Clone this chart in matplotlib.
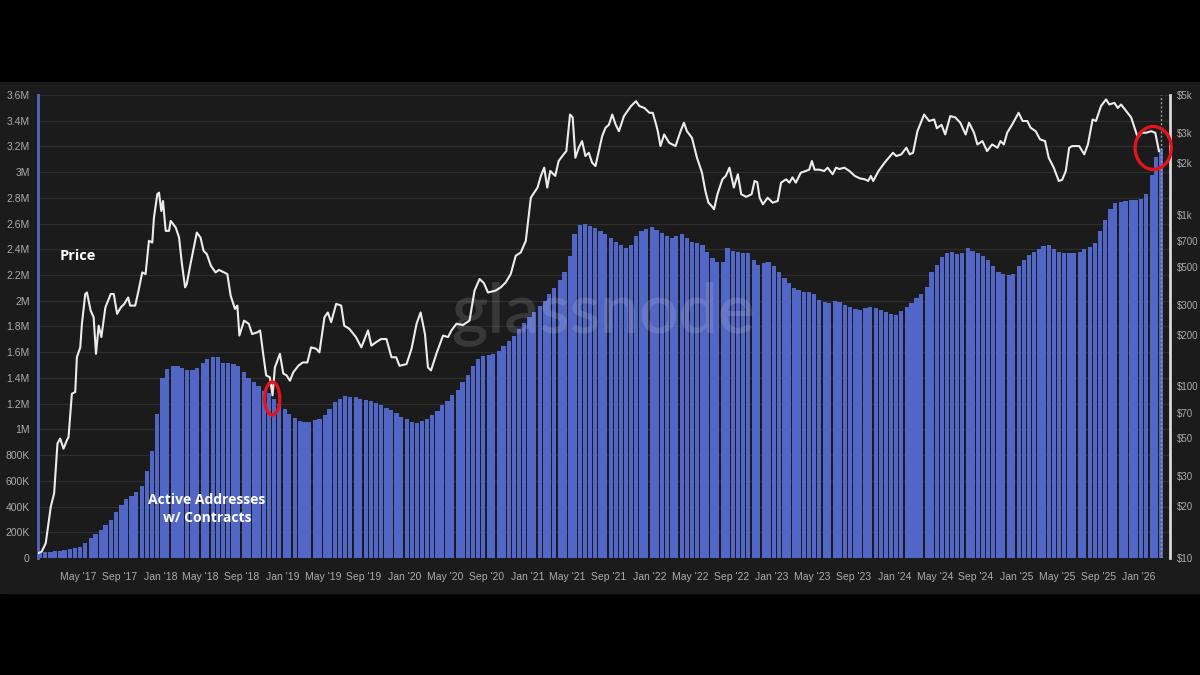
import matplotlib
matplotlib.use("Agg")
import matplotlib.pyplot as plt
import matplotlib.dates as mdates
import matplotlib.ticker as mticker
from matplotlib.patches import Ellipse, Rectangle
import pandas as pd

# active addresses w/ contracts, semi-monthly (thousands)
bars_2017 = [48, 49, 50, 52, 58, 63, 68, 75, 88, 120, 155, 185, 218, 255, 295, 355, 415, 455, 480, 510, 560, 680, 830, 1120]
bars_2018 = [1400, 1470, 1490, 1490, 1480, 1460, 1460, 1480, 1520, 1545, 1560, 1565, 1515, 1520, 1510, 1490, 1450, 1400, 1370, 1340, 1300, 1280, 1240, 1200]
bars_2019 = [1160, 1120, 1090, 1065, 1060, 1060, 1070, 1080, 1110, 1160, 1210, 1240, 1260, 1255, 1250, 1240, 1230, 1220, 1205, 1190, 1170, 1150, 1130, 1100]
bars_2020 = [1080, 1060, 1047, 1065, 1080, 1110, 1140, 1190, 1220, 1270, 1310, 1370, 1420, 1490, 1550, 1570, 1580, 1585, 1610, 1650, 1690, 1730, 1780, 1830]
bars_2021 = [1870, 1910, 1960, 2000, 2050, 2100, 2160, 2220, 2350, 2520, 2590, 2595, 2580, 2565, 2545, 2520, 2490, 2460, 2430, 2410, 2430, 2500, 2540, 2556]
bars_2022 = [2570, 2550, 2525, 2500, 2486, 2500, 2520, 2490, 2460, 2450, 2430, 2380, 2330, 2300, 2300, 2410, 2390, 2380, 2375, 2370, 2320, 2280, 2290, 2300]
bars_2023 = [2270, 2220, 2180, 2140, 2100, 2080, 2066, 2070, 2050, 2006, 1990, 1980, 1995, 1990, 1970, 1955, 1935, 1928, 1945, 1955, 1940, 1925, 1910, 1895]
bars_2024 = [1890, 1920, 1955, 1985, 2020, 2055, 2110, 2225, 2280, 2340, 2370, 2380, 2360, 2375, 2408, 2390, 2370, 2345, 2317, 2270, 2220, 2205, 2200, 2210]
bars_2025 = [2270, 2320, 2355, 2380, 2400, 2425, 2430, 2400, 2380, 2369, 2369, 2370, 2380, 2400, 2420, 2450, 2540, 2630, 2710, 2758, 2770, 2776, 2780, 2784]
bars_2026 = [2790, 2830, 2980, 3120, 3180]

addr_k = bars_2017 + bars_2018 + bars_2019 + bars_2020 + bars_2021 + bars_2022 + bars_2023 + bars_2024 + bars_2025 + bars_2026
addr = [v * 1000 for v in addr_k]
addr_dates = pd.date_range("2017-01-01", periods=len(addr), freq="SMS")

# price (usd)
price_dates = [
    "2017-01-03", "2017-01-12", "2017-01-24", "2017-02-08", "2017-02-18", "2017-02-28", "2017-03-08", "2017-03-18",
    "2017-03-28", "2017-04-02", "2017-04-12", "2017-04-22", "2017-04-27", "2017-05-07", "2017-05-12", "2017-05-22",
    "2017-05-27", "2017-06-07", "2017-06-16", "2017-06-23", "2017-07-01", "2017-07-09", "2017-07-21", "2017-08-06",
    "2017-08-15", "2017-08-25", "2017-09-05", "2017-09-15", "2017-09-27", "2017-10-03", "2017-10-18", "2017-10-28",
    "2017-11-08", "2017-11-18", "2017-11-28", "2017-12-08", "2017-12-13", "2017-12-23", "2017-12-28", "2018-01-04",
    "2018-01-09", "2018-01-17", "2018-01-27", "2018-02-01", "2018-02-16", "2018-02-26", "2018-03-06", "2018-03-16",
    "2018-03-21", "2018-04-01", "2018-04-10", "2018-04-20", "2018-05-01", "2018-05-10", "2018-05-20", "2018-06-01",
    "2018-06-15", "2018-06-25", "2018-07-10", "2018-07-20", "2018-07-30", "2018-08-12", "2018-08-19", "2018-08-25",
    "2018-09-08", "2018-09-22", "2018-10-02", "2018-10-18", "2018-10-26", "2018-11-04", "2018-11-13", "2018-11-24",
    "2018-12-02", "2018-12-09", "2018-12-24", "2019-01-03", "2019-01-13", "2019-01-23", "2019-02-02", "2019-02-17",
    "2019-03-02", "2019-03-16", "2019-03-27", "2019-04-11", "2019-04-21", "2019-05-06", "2019-05-16", "2019-05-26",
    "2019-06-10", "2019-06-25", "2019-07-04", "2019-07-19", "2019-08-08", "2019-08-24", "2019-09-13", "2019-09-23",
    "2019-10-07", "2019-10-22", "2019-11-07", "2019-11-22", "2019-12-06", "2019-12-16", "2020-01-06", "2020-01-21",
    "2020-02-05", "2020-02-17", "2020-03-01", "2020-03-10", "2020-03-19", "2020-04-04", "2020-04-24", "2020-05-09",
    "2020-05-19", "2020-06-03", "2020-06-22", "2020-07-12", "2020-07-27", "2020-08-11", "2020-08-24", "2020-09-05",
    "2020-09-28", "2020-10-13", "2020-10-28", "2020-11-12", "2020-11-27", "2020-12-12", "2020-12-27", "2021-01-11",
    "2021-01-21", "2021-01-31", "2021-02-10", "2021-02-20", "2021-03-01", "2021-03-10", "2021-03-25", "2021-04-04",
    "2021-04-19", "2021-04-27", "2021-05-08", "2021-05-16", "2021-05-24", "2021-06-03", "2021-06-13", "2021-06-23",
    "2021-07-03", "2021-07-13", "2021-07-23", "2021-08-02", "2021-08-12", "2021-08-22", "2021-09-01", "2021-09-11",
    "2021-09-21", "2021-10-01", "2021-10-16", "2021-11-06", "2021-11-21", "2021-12-01", "2021-12-16", "2021-12-31",
    "2022-01-10", "2022-01-20", "2022-01-25", "2022-02-02", "2022-02-13", "2022-02-28", "2022-03-19", "2022-04-03",
    "2022-04-13", "2022-04-22", "2022-05-07", "2022-05-22", "2022-06-06", "2022-06-16", "2022-06-25", "2022-07-04",
    "2022-07-12", "2022-07-22", "2022-08-06", "2022-08-16", "2022-08-27", "2022-09-09", "2022-09-21", "2022-10-01",
    "2022-10-16", "2022-11-01", "2022-11-10", "2022-11-18", "2022-11-25", "2022-12-05", "2022-12-19", "2023-01-03",
    "2023-01-18", "2023-01-28", "2023-02-12", "2023-02-22", "2023-03-03", "2023-03-13", "2023-03-28", "2023-04-12",
    "2023-04-22", "2023-04-30", "2023-05-08", "2023-05-22", "2023-06-06", "2023-06-16", "2023-07-01", "2023-07-11",
    "2023-07-21", "2023-08-05", "2023-08-20", "2023-09-05", "2023-09-20", "2023-10-05", "2023-10-15", "2023-10-23",
    "2023-10-30", "2023-11-15", "2023-12-03", "2023-12-28", "2024-01-07", "2024-01-22", "2024-02-06", "2024-02-16",
    "2024-02-26", "2024-03-10", "2024-03-30", "2024-04-14", "2024-04-29", "2024-05-07", "2024-05-21", "2024-06-01",
    "2024-06-16", "2024-07-01", "2024-07-16", "2024-08-01", "2024-08-11", "2024-08-26", "2024-09-05", "2024-09-20",
    "2024-10-04", "2024-10-19", "2024-11-04", "2024-11-13", "2024-11-23", "2024-12-03", "2024-12-18", "2025-01-06",
    "2025-01-18", "2025-02-01", "2025-02-11", "2025-02-26", "2025-03-11", "2025-03-26", "2025-04-06", "2025-04-21",
    "2025-05-06", "2025-05-16", "2025-05-27", "2025-06-06", "2025-06-15", "2025-07-06", "2025-07-21", "2025-08-01",
    "2025-08-15", "2025-08-25", "2025-09-09", "2025-09-24", "2025-10-04", "2025-10-19", "2025-10-29", "2025-11-08",
    "2025-11-23", "2025-12-08", "2025-12-18", "2025-12-28", "2026-01-07", "2026-01-22", "2026-02-06", "2026-02-18",
    "2026-03-01",
]
price = [
    10.7, 10.9, 12.2, 19.9, 23.8, 46.5, 49.7, 43.4,
    48.5, 50.7, 90.7, 92.8, 148, 169, 232, 346,
    353, 277, 253, 155, 226, 194, 289, 346,
    346, 265, 289, 302, 330, 296, 296, 362,
    462, 452, 706, 690, 964, 1319, 1349, 1054,
    1205, 807, 807, 923, 844, 738, 528, 378,
    396, 516, 632, 789, 738, 618, 590, 505,
    462, 478, 462, 452, 338, 283, 296, 198,
    242, 232, 202, 207, 212, 155, 116, 113,
    88.7, 129, 155, 119, 116, 108, 121, 132,
    138, 138, 169, 166, 158, 253, 270, 237,
    303, 296, 226, 217, 194, 169, 212, 173,
    181, 189, 189, 148, 148, 132, 135, 166,
    232, 270, 202, 129, 124, 155, 198, 194,
    212, 232, 228, 242, 362, 423, 400, 353,
    362, 378, 404, 452, 578, 604, 706, 1259,
    1349, 1443, 1687, 1885, 1443, 1803, 1687, 2061,
    2254, 2354, 3846, 3700, 2153, 2462, 2693, 2203,
    2302, 2015, 1927, 2354, 2879, 3220, 3351, 3846,
    3367, 3075, 3766, 4308, 4600, 4308, 4200, 3935,
    3935, 3367, 3075, 2518, 2943, 2631, 2518, 3075,
    3445, 3075, 2813, 2153, 1762, 1380, 1180, 1130,
    1079, 1319, 1612, 1687, 1885, 1443, 1725, 1319,
    1274, 1319, 1577, 1550, 1259, 1153, 1259, 1178,
    1205, 1541, 1612, 1541, 1655, 1541, 1762, 1803,
    1835, 2061, 1835, 1835, 1803, 1885, 1725, 1885,
    1850, 1885, 1803, 1687, 1633, 1612, 1577, 1687,
    1577, 1803, 2015, 2302, 2203, 2254, 2462, 2254,
    2302, 3075, 3846, 3525, 3600, 3200, 3351, 2943,
    3766, 3700, 3445, 2943, 3445, 3013, 2574, 2693,
    2354, 2574, 2462, 2693, 2574, 3013, 3367, 3935,
    3525, 3525, 3220, 3075, 2755, 2693, 2153, 1885,
    1577, 1600, 1803, 2462, 2518, 2518, 2254, 2574,
    3600, 3525, 4308, 4710, 4400, 4500, 4200, 4400,
    4030, 3700, 3220, 2813, 3013, 3013, 3075, 3013,
    2354,
]
price_dates = pd.to_datetime(price_dates)

left_ticks = [i * 200000 for i in range(19)]
right_ticks = [10, 20, 30, 50, 70, 100, 200, 300, 500, 700, 1000, 2000, 3000, 5000]
right_labels = ["$10", "$20", "$30", "$50", "$70", "$100", "$200", "$300", "$500", "$700", "$1k", "$2k", "$3k", "$5k"]

BG = "#1b1b1b"
BLUE = "#5266c6"
TICK = "#ababab"
TICKFONT = "Liberation Sans"

fig = plt.figure(figsize=(12, 6.75), dpi=100, facecolor="black")
fig.patches.append(Rectangle((0, 0.1215), 1, 0.757, transform=fig.transFigure, color=BG, zorder=-10))

ax = fig.add_axes([0.0317, 0.1733, 0.9433, 0.686])
ax.set_facecolor(BG)
ax.bar(addr_dates, addr, width=12.5, align="edge", color=BLUE, linewidth=0, zorder=2)
ax.set_ylim(0, 3600000)
ax.set_yticks(left_ticks)

def fmt_left(v, pos):
    if v == 0:
        return "0"
    if v < 1e6:
        return f"{v / 1e3:.0f}K"
    return f"{v / 1e6:g}M"

ax.yaxis.set_major_formatter(mticker.FuncFormatter(fmt_left))
ax.grid(axis="y", color="#2d2d2d", linewidth=0.9)
ax.set_axisbelow(True)

ax.set_xlim(pd.Timestamp("2017-01-01"), pd.Timestamp("2026-04-03"))
xt = pd.date_range("2017-05-01", "2026-01-01", freq="4MS")
ax.set_xticks(xt)
ax.set_xticklabels([d.strftime("%b '%y") for d in xt])
ax.tick_params(axis="x", length=0, pad=10, colors=TICK, labelsize=7.5)
ax.tick_params(axis="y", length=0, pad=6, colors=TICK, labelsize=7.5)
for lab in ax.get_xticklabels() + ax.get_yticklabels():
    lab.set_family(TICKFONT)
for s in ["top", "bottom", "right"]:
    ax.spines[s].set_visible(False)
ax.spines["left"].set_color(BLUE)
ax.spines["left"].set_linewidth(2)

ax2 = ax.twinx()
ax2.plot(price_dates, price, color="#ececec", linewidth=1.5, zorder=3)
ax2.set_yscale("log")
ax2.set_ylim(10, 5000)
ax2.set_yticks(right_ticks)
ax2.set_yticklabels(right_labels)
ax2.yaxis.set_minor_locator(mticker.NullLocator())
ax2.tick_params(axis="y", length=0, pad=5, colors=TICK, labelsize=7)
for lab in ax2.get_yticklabels():
    lab.set_family(TICKFONT)
for s in ["top", "bottom", "left"]:
    ax2.spines[s].set_visible(False)
ax2.spines["right"].set_color("#d8d8d8")
ax2.spines["right"].set_linewidth(2)
ax2.axvline(pd.Timestamp("2026-03-06"), color="#9a9a9a", linestyle=(0, (1.5, 1.5)), linewidth=1)

# red hand-drawn circles
for cx, cy, w, h in [("2018-12-01", 1240000, 45, 256000), ("2026-02-12", 3188000, 108, 334000)]:
    e = Ellipse((mdates.date2num(pd.Timestamp(cx)), cy), w, h, transform=ax.transData,
                fill=False, edgecolor="#e3141b", linewidth=2.4, zorder=5, clip_on=False)
    ax2.add_patch(e)
ax2.set_ylim(10, 5000)

fig.text(0.5025, 0.535, "glassnode", fontsize=50, family="Lato", weight="semibold", color="white",
         alpha=0.13, ha="center", va="center", zorder=10)
fig.text(0.05, 0.6207, "Price", fontsize=10.5, family="Open Sans", weight="bold", color="white",
         ha="left", va="center")
fig.text(0.1725, 0.246, "Active Addresses\nw/ Contracts", fontsize=10, family="Open Sans",
         weight="bold", color="white", ha="center", va="center", linespacing=1.3)

fig.savefig("out.png", dpi=100, facecolor="black")
